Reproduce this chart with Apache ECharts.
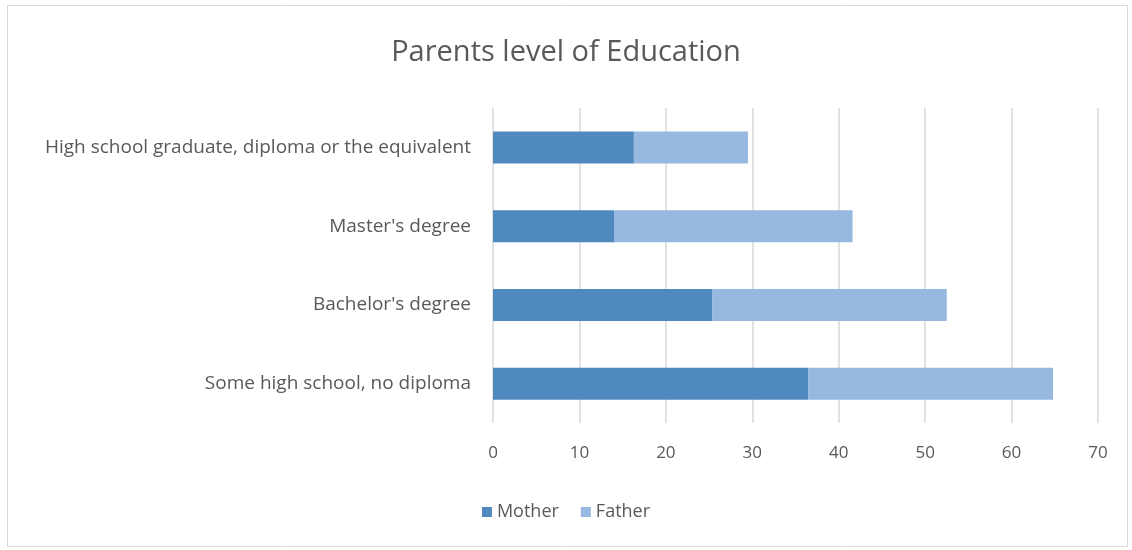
<!DOCTYPE html>
<html><head><meta charset="utf-8">
<script src="https://cdn.jsdelivr.net/npm/echarts@6/dist/echarts.min.js"></script>
<style>html,body{margin:0;padding:0;background:#fff}#c{width:1132px;height:550px}</style>
</head><body><div id="c"></div>
<script>
const categories = ["Some high school, no diploma", "Bachelor's degree", "Master's degree", "High school graduate, diploma or the equivalent"];
const mother = [36.5, 25.4, 14.0, 16.3];
const father = [28.3, 27.1, 27.6, 13.2];
const xTicks = { min: 0, max: 70, interval: 10 };
const font = "'Open Sans', sans-serif";
const chart = echarts.init(document.getElementById('c'), null, {renderer: 'canvas'});
chart.setOption({
  animation: false,
  graphic: [{type: 'rect', shape: {x: 7.5, y: 5.5, width: 1120, height: 541}, style: {fill: 'none', stroke: '#d9d9d9', lineWidth: 1}}],
  title: {text: 'Parents level of Education', left: 'center', top: 33,
    textStyle: {fontFamily: font, fontSize: 29, fontWeight: 'normal', color: '#595959'}},
  legend: {bottom: 24, left: 'center', itemWidth: 10, itemHeight: 10, itemGap: 22, icon: 'rect',
    textStyle: {fontFamily: font, fontSize: 18, color: '#595959'}, data: ['Mother', 'Father']},
  grid: {left: 493, right: 34, top: 108, bottom: 127, containLabel: false},
  xAxis: {type: 'value', min: xTicks.min, max: xTicks.max, interval: xTicks.interval,
    axisLine: {show: false}, axisTick: {show: false},
    splitLine: {lineStyle: {color: '#d9d9d9', width: 1.5}},
    axisLabel: {fontFamily: font, fontSize: 17, color: '#595959', margin: 22}},
  yAxis: {type: 'category', data: categories,
    axisLine: {show: false}, axisTick: {show: false},
    axisLabel: {fontFamily: font, fontSize: 19, color: '#595959', margin: 22}},
  series: [
    {name: 'Mother', type: 'bar', stack: 'a', data: mother, barWidth: 32,
      itemStyle: {color: '#4f89bd'}},
    {name: 'Father', type: 'bar', stack: 'a', data: father, barWidth: 32,
      itemStyle: {color: '#97b9e0'}}
  ]
});
</script></body></html>
